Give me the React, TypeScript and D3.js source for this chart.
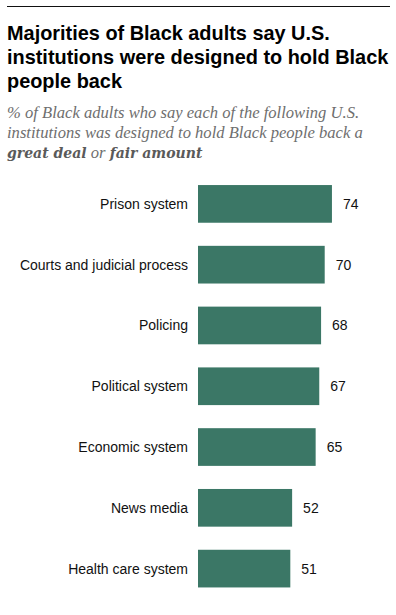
import React, { useEffect, useRef } from "react";
import * as d3 from "d3";

const categories = [
  "Prison system",
  "Courts and judicial process",
  "Policing",
  "Political system",
  "Economic system",
  "News media",
  "Health care system",
];
const values = [74, 70, 68, 67, 65, 52, 51];

const width = 396;
const height = 615;
const barLeft = 198;
const barColor = "#3b7766";
const sans = "'Liberation Sans', Arial, sans-serif";

export default function App() {
  const svgRef = useRef<SVGSVGElement>(null);

  useEffect(() => {
    const svg = d3.select(svgRef.current);
    svg.selectAll("*").remove();

    // top rule
    svg
      .append("line")
      .attr("x1", 7)
      .attr("x2", 390)
      .attr("y1", 6.5)
      .attr("y2", 6.5)
      .attr("stroke", "#111")
      .attr("stroke-width", 1.2);

    const title = [
      "Majorities of Black adults say U.S.",
      "institutions were designed to hold Black",
      "people back",
    ];
    svg
      .append("g")
      .selectAll("text")
      .data(title)
      .join("text")
      .attr("x", 7)
      .attr("y", (_, i) => 40 + i * 24)
      .attr("font-family", sans)
      .attr("font-weight", 700)
      .attr("font-size", 19.9)
      .attr("fill", "#000")
      .text((d) => d);

    const sub = svg
      .append("g")
      .attr("font-family", "'Liberation Serif', 'DejaVu Serif', serif")
      .attr("font-style", "italic")
      .attr("font-size", 16.6)
      .attr("fill", "#6e6e6e");
    sub.append("text").attr("x", 7).attr("y", 118)
      .text("% of Black adults who say each of the following U.S.");
    sub.append("text").attr("x", 7).attr("y", 138)
      .text("institutions was designed to hold Black people back a");
    const l3 = sub.append("text").attr("x", 7).attr("y", 158);
    const bold = (s: string) =>
      l3.append("tspan")
        .attr("font-family", "'DejaVu Serif', serif")
        .attr("font-weight", 700)
        .attr("font-size", 14)
        .attr("fill", "#5a5a5a")
        .text(s);
    bold("great deal");
    l3.append("tspan").text(" or ");
    bold("fair amount");

    const x = d3.scaleLinear().domain([0, 100]).range([barLeft, barLeft + 181]);
    const y = d3
      .scaleBand()
      .domain(categories)
      .range([173.5, 599])
      .paddingInner(0.38)
      .paddingOuter(0.19);

    const rows = svg
      .append("g")
      .selectAll("g")
      .data(categories.map((c, i) => ({ c, v: values[i] })))
      .join("g");

    rows
      .append("rect")
      .attr("x", x(0))
      .attr("y", (d) => y(d.c)!)
      .attr("width", (d) => x(d.v) - x(0))
      .attr("height", y.bandwidth())
      .attr("fill", barColor);

    rows
      .append("text")
      .attr("x", 188)
      .attr("y", (d) => y(d.c)! + y.bandwidth() / 2 + 5)
      .attr("text-anchor", "end")
      .attr("font-family", sans)
      .attr("font-size", 14)
      .attr("fill", "#111")
      .text((d) => d.c);

    rows
      .append("text")
      .attr("x", (d) => x(d.v) + 11)
      .attr("y", (d) => y(d.c)! + y.bandwidth() / 2 + 5)
      .attr("font-family", sans)
      .attr("font-size", 14)
      .attr("fill", "#111")
      .text((d) => d.v);
  }, []);

  return (
    <svg
      ref={svgRef}
      width={width}
      height={height}
      style={{ position: "absolute", left: 0, top: 0, background: "#fff" }}
    />
  );
}
